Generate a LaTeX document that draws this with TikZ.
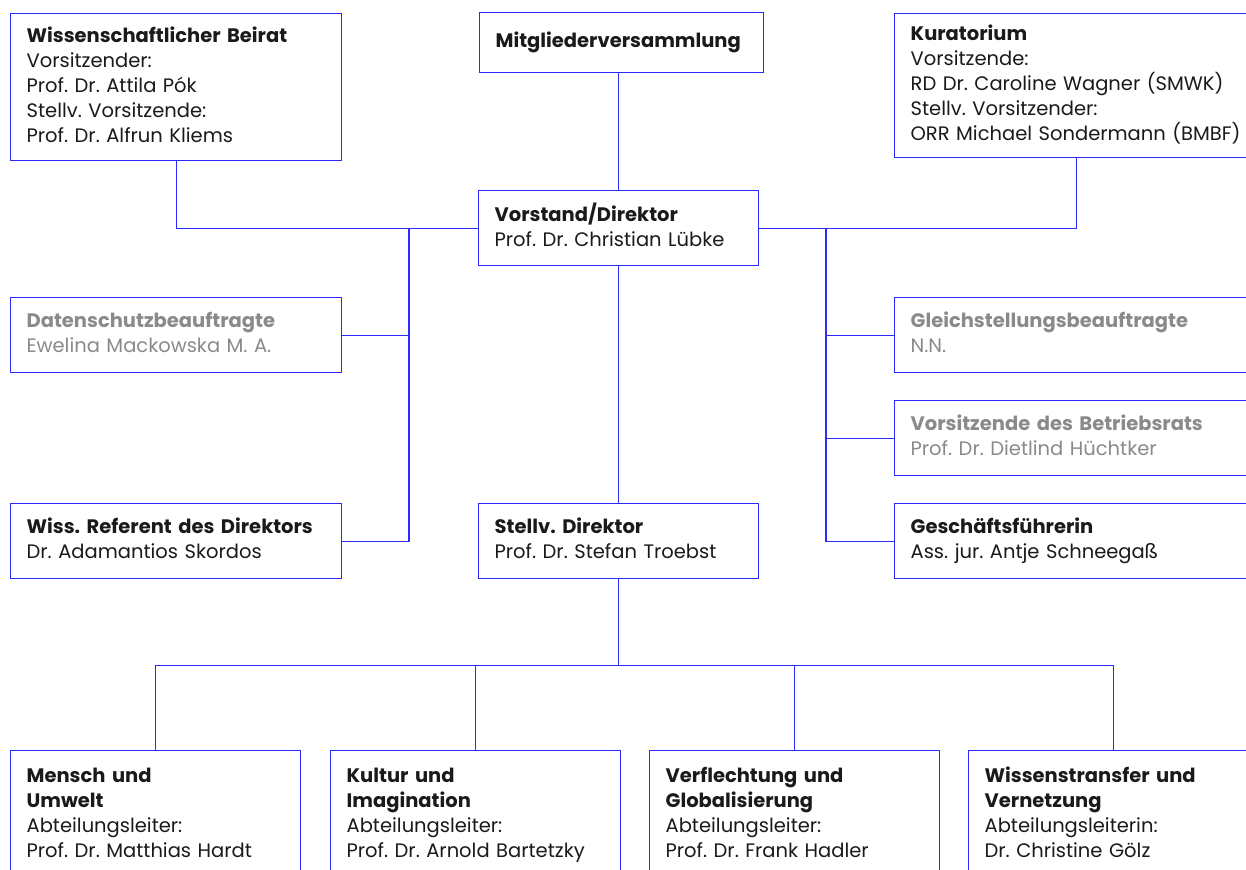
\documentclass[tikz,border=0pt]{standalone}
\usepackage{fontspec}
\setmainfont{Poppins}
\frenchspacing

\definecolor{linie}{HTML}{2A2AFF}
\definecolor{schrift}{HTML}{1A1A1A}
\definecolor{blass}{HTML}{8A8A8A}

\tikzset{
  box/.style={draw=linie,line width=1.3pt,fill=white,anchor=north west,align=left,
    inner xsep=16pt,inner ysep=0pt,text=schrift,
    font=\fontsize{19.5}{25}\selectfont,
    execute at begin node=\strut,execute at end node=\strut},
  grau/.style={box,text=blass},
  verbindung/.style={draw=linie,line width=1.3pt}
}

\begin{document}
\begin{tikzpicture}[x=1pt,y=-1pt]
\useasboundingbox (0,0) rectangle (1246,869);
\clip (0,0) rectangle (1246,869);
\node[box,text width=299pt,minimum height=147pt] (beirat) at (10,13) {\textbf{Wissenschaftlicher Beirat}\\Vorsitzender:\\Prof. Dr. Attila Pók\\Stellv. Vorsitzende:\\Prof. Dr. Alfrun Kliems};
\node[box,text width=252pt,minimum height=60pt] (mv) at (479,12) {\textbf{Mitgliederversammlung}};
\node[box,text width=332pt,minimum height=144pt] (kur) at (894,13) {\textbf{Kuratorium}\\Vorsitzende:\\RD Dr. Caroline Wagner (SMWK)\\Stellv. Vorsitzender:\\\mbox{ORR Michael Sondermann (BMBF)}};
\node[box,text width=248pt,minimum height=75pt] (vorstand) at (478,190) {\textbf{Vorstand/Direktor}\\Prof. Dr. Christian Lübke};
\node[grau,text width=299pt,minimum height=75pt] (dsb) at (10,297) {\textbf{Datenschutzbeauftragte}\\Ewelina Mackowska M. A.};
\node[box,text width=299pt,minimum height=75pt] (referent) at (10,503) {\textbf{Wiss. Referent des Direktors}\\Dr. Adamantios Skordos};
\node[box,text width=248pt,minimum height=75pt] (stellv) at (478,503) {\textbf{Stellv. Direktor}\\Prof. Dr. Stefan Troebst};
\node[grau,text width=332pt,minimum height=75pt] (gleich) at (894,297) {\textbf{Gleichstellungsbeauftragte}\\N.N.};
\node[grau,text width=332pt,minimum height=75pt] (betriebsrat) at (894,400) {\textbf{Vorsitzende des Betriebsrats}\\Prof. Dr. Dietlind Hüchtker};
\node[box,text width=332pt,minimum height=75pt] (gf) at (894,503) {\textbf{Geschäftsführerin}\\Ass. jur. Antje Schneegaß};
% Abteilungen
\node[box,text width=258pt,minimum height=128pt] (abt1) at (10,750) {\textbf{Mensch und}\\\textbf{Umwelt}\\Abteilungsleiter:\\Prof. Dr. Matthias Hardt};
\node[box,text width=258pt,minimum height=128pt] (abt2) at (330,750) {\textbf{Kultur und}\\\textbf{Imagination}\\Abteilungsleiter:\\Prof. Dr. Arnold Bartetzky};
\node[box,text width=258pt,minimum height=128pt] (abt3) at (649,750) {\textbf{Verflechtung und}\\\textbf{Globalisierung}\\Abteilungsleiter:\\Prof. Dr. Frank Hadler};
\node[box,text width=258pt,minimum height=128pt] (abt4) at (968,750) {\textbf{Wissenstransfer und}\\\textbf{Vernetzung}\\Abteilungsleiterin:\\Dr. Christine Gölz};
\coordinate (links) at (409,227.5);
\coordinate (rechts) at (826,227.5);
\coordinate (verteiler) at ([yshift=-86pt]stellv.south);
\draw[verbindung] (vorstand.north) -- (vorstand.north |- mv.south);
\draw[verbindung] (beirat.south) |- (vorstand.west);
\draw[verbindung] (kur.south) |- (vorstand.east);
\draw[verbindung] (dsb.east) -| (links);
\draw[verbindung] (referent.east) -| (links);
\draw[verbindung] (gleich.west) -| (rechts);
\draw[verbindung] (betriebsrat.west) -| (rechts);
\draw[verbindung] (gf.west) -| (rechts);
\draw[verbindung] (vorstand.south) -- (stellv.north);
\draw[verbindung] (stellv.south) -- (verteiler);
\foreach \n in {abt1,abt2,abt3,abt4}
  \draw[verbindung] (verteiler) -| (\n.north);
\end{tikzpicture}
\end{document}
